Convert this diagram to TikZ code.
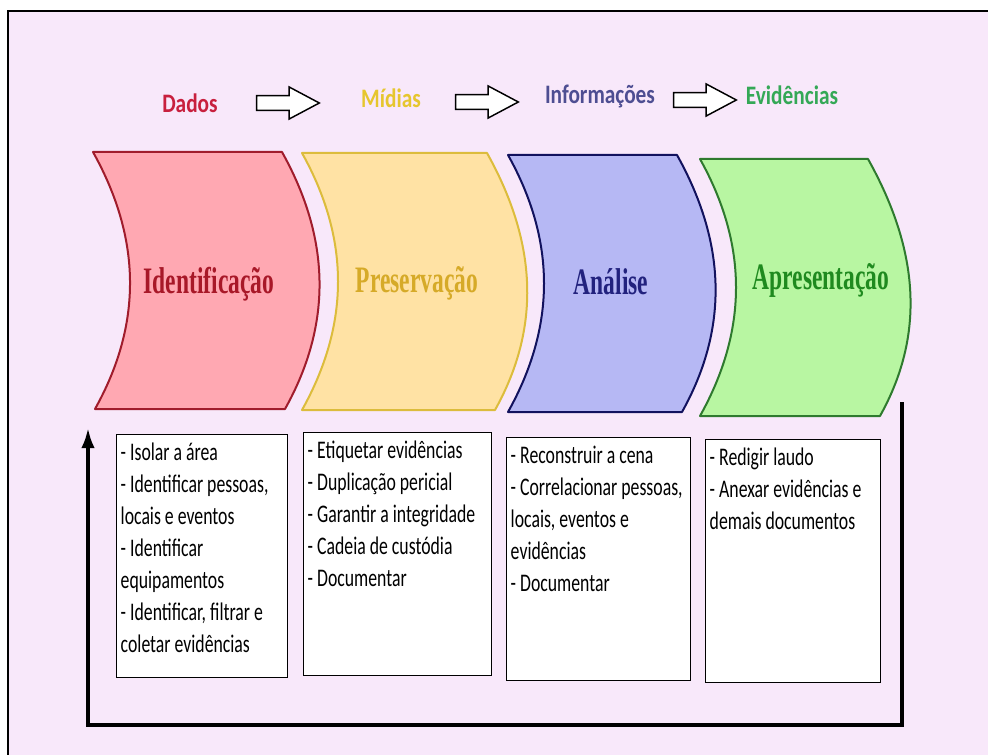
\documentclass[tikz,border=0pt]{standalone}
\usepackage{fontspec}
\usetikzlibrary{arrows.meta,shapes.arrows}
\newfontfamily\boxfont[FakeStretch=0.7]{Carlito}
\newfontfamily\topfont[FakeStretch=0.8]{Carlito}
\newfontfamily\etapafont[FakeStretch=0.63]{Liberation Serif}
\definecolor{fundo}{HTML}{F8E8FA}
\definecolor{redfill}{HTML}{FFA8B2}
\definecolor{redline}{HTML}{A01C2C}
\definecolor{yelfill}{HTML}{FFE2A4}
\definecolor{yelline}{HTML}{DCBC3C}
\definecolor{blufill}{HTML}{B6B8F4}
\definecolor{bluline}{HTML}{12125E}
\definecolor{grnfill}{HTML}{B8F6A2}
\definecolor{grnline}{HTML}{2E7A2E}
\definecolor{redtext}{HTML}{A81828}
\definecolor{yeltext}{HTML}{D6AA28}
\definecolor{blutext}{HTML}{22227E}
\definecolor{grntext}{HTML}{1F8A1F}
\definecolor{dadoscol}{HTML}{C8203E}
\definecolor{midiascol}{HTML}{E6C62E}
\definecolor{infocol}{HTML}{4E4E92}
\definecolor{evidcol}{HTML}{34A856}
\newcommand\itens[3]{\begin{minipage}[t][#1][t]{#2}\raggedright
  \fontsize{19}{24}\selectfont #3\end{minipage}}
\tikzset{
  toplabel/.style={anchor=base, inner sep=0pt,
    font=\topfont\bfseries\fontsize{20}{22}\selectfont},
  fluxo/.style={single arrow, draw=black, fill=white, line width=1.1pt,
    inner xsep=0pt, inner ysep=5pt, minimum height=47pt,
    single arrow head extend=6.5pt, single arrow tip angle=56},
  etapa/.style={line width=1.5pt, line join=round},
  etapalabel/.style={anchor=base, inner sep=0pt,
    font=\etapafont\bfseries\fontsize{28}{30}\selectfont},
  caixa/.style={draw=black, line width=1.1pt, fill=white, anchor=north west,
    inner xsep=3pt, inner ysep=6pt, font=\boxfont},
  retorno/.style={line width=2.6pt, -{Latex[length=15pt,width=10pt]}}
}
\begin{document}
\begin{tikzpicture}[x=0.75pt,y=-0.75pt]
  \useasboundingbox (0,0) rectangle (988,755);
  \fill[white] (0,0) rectangle (988,755);
  \fill[fundo] (8,11) rectangle (988,755);
  \draw[line width=2.2pt] (8,755) -- (8,11) -- (988,11);

  % top row
  \node[toplabel, text=dadoscol] (dados) at (190,113) {Dados};
  \node[fluxo] (a1) at (281,103) {};
  \node[toplabel, text=midiascol] (midias) at (391,108) {Mídias};
  \node[fluxo] (a2) at (480,102) {};
  \node[toplabel, text=infocol] (info) at (600,104) {Informações};
  \node[fluxo] (a3) at (698,100) {};
  \node[toplabel, text=evidcol] (evid) at (792,105) {Evidências};

  % stages
  \foreach \L/\R/\RB/\LB/\T/\B/\fil/\lin in {
      93/282/285/95/152/409/redfill/redline,
      302/487/495/302/153/410/yelfill/yelline,
      508/677/682/508/155/412/blufill/bluline,
      700/868/880/700/159/416/grnfill/grnline}
    \draw[etapa, fill=\fil, draw=\lin] (\L,\T) -- (\R,\T)
      .. controls (\R+48,\T+86) and (\RB+48,\B-86) .. (\RB,\B) -- (\LB,\B)
      .. controls (\LB+48,\B-86) and (\L+48,\T+86) .. cycle;
  \node[etapalabel, text=redtext] (ident) at (209,294) {Identificação};
  \node[etapalabel, text=yeltext] (pres) at (417,293) {Preservação};
  \node[etapalabel, text=blutext] (anal) at (611,295) {Análise};
  \node[etapalabel, text=grntext] (apres) at (821,290) {Apresentação};

  % task boxes
  \node[caixa] (b1) at (116,434) {\itens{170pt}{122pt}{%
    - Isolar a área\\
    - Identificar pessoas,\\
    locais e eventos\\
    - Identificar\\
    equipamentos\\
    - Identificar, filtrar e\\
    coletar evidências}};
  \node[caixa] (b2) at (303,432) {\itens{170pt}{135pt}{%
    - Etiquetar evidências\\
    - Duplicação pericial\\
    - Garantir a integridade\\
    - Cadeia de custódia\\
    - Documentar}};
  \node[caixa] (b3) at (506,437) {\itens{170pt}{132pt}{%
    - Reconstruir a cena\\
    - Correlacionar pessoas,\\
    locais, eventos e\\
    evidências\\
    - Documentar}};
  \node[caixa] (b4) at (705,439) {\itens{170pt}{125pt}{%
    - Redigir laudo\\
    - Anexar evidências e\\
    demais documentos}};

  % feedback loop
  \coordinate (loopstart) at (902,402);
  \coordinate (loopcorner) at (88,725);
  \coordinate (loopend) at (88,428);
  \draw[retorno] (loopstart) |- (loopcorner) -- (loopend);
\end{tikzpicture}
\end{document}
